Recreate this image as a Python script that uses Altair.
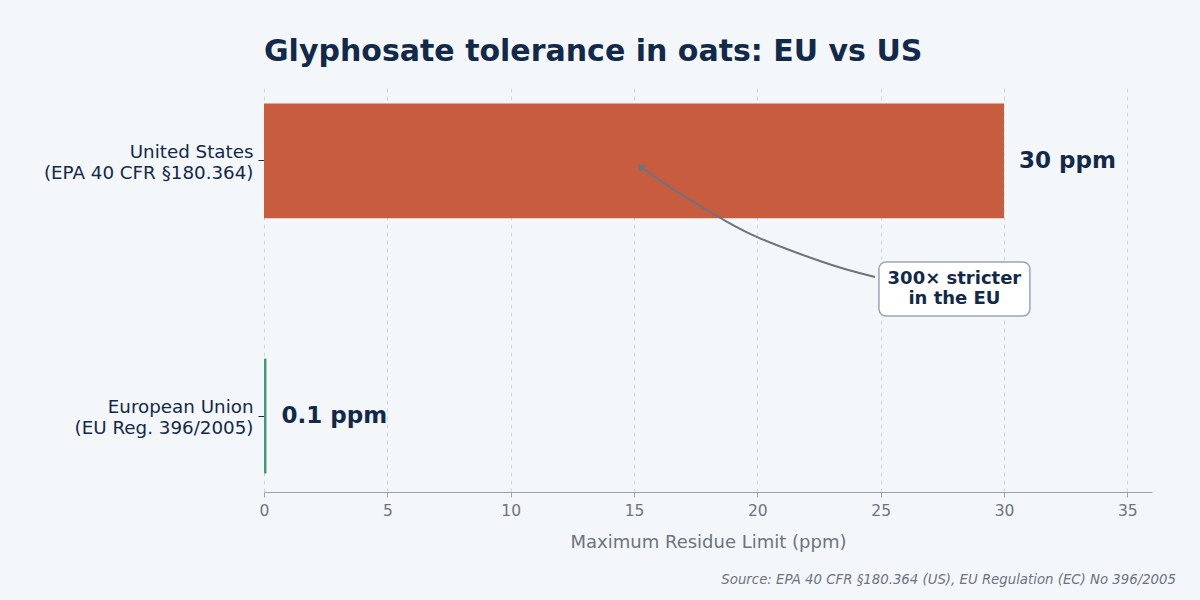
import altair as alt
import pandas as pd

# ---- data ----
regions = ["United States\n(EPA 40 CFR §180.364)", "European Union\n(EU Reg. 396/2005)"]
mrl_ppm = [30, 0.1]
value_labels = ["30 ppm", "0.1 ppm"]
bar_colors = ["#c85c3f", "#3f9a78"]

# annotation arrow path (x in ppm, y in band steps: 0 = US row, 1 = EU row)
arrow_x = [24.77, 23.35, 21.73, 19.99, 18.69, 17.68, 16.86, 15.97, 15.30]
arrow_y = [0.455, 0.420, 0.365, 0.302, 0.235, 0.176, 0.129, 0.071, 0.025]
box_x = [24.93, 31.05]
box_y = [0.396, 0.608]
note_text = "300× stricter\nin the EU"
source_text = "Source: EPA 40 CFR §180.364 (US), EU Regulation (EC) No 396/2005"

NAVY = "#12294a"
GRAY = "#6b7480"
BG = "#f4f7fa"
FONT = "DejaVu Sans"

df = pd.DataFrame({"region": regions, "mrl": mrl_ppm, "label": value_labels})
arrow_df = pd.DataFrame({"x": arrow_x, "y": arrow_y, "order": list(range(len(arrow_x)))})
tip_df = pd.DataFrame({"x": [arrow_x[-1]], "y": [arrow_y[-1]]})
box_df = pd.DataFrame({"x": [box_x[0]], "x2": [box_x[1]], "y": [box_y[0]], "y2": [box_y[1]],
                       "xm": [(box_x[0] + box_x[1]) / 2], "ym": [(box_y[0] + box_y[1]) / 2],
                       "t": [note_text]})

xscale = alt.Scale(domain=[0, 36], nice=False)
yband = alt.Scale(domain=regions, paddingInner=0.55, paddingOuter=0.0725)
yq = alt.Scale(domain=[-0.298, 1.298], reverse=True, nice=False, zero=False)

xaxis = alt.Axis(
    title="Maximum Residue Limit (ppm)", values=[0, 5, 10, 15, 20, 25, 30, 35],
    grid=True, gridColor="#d3d8de", gridDash=[4, 4], gridWidth=1,
    domainColor="#9aa5b4", domainWidth=1.2, tickColor="#9aa5b4", tickSize=5,
    labelColor=GRAY, labelFontSize=15.5, labelFont=FONT, labelPadding=6, labelFlush=False,
    titleColor=GRAY, titleFontSize=18, titleFont=FONT, titleFontWeight="normal",
    titlePadding=15,
)

base = alt.Chart(df)

bars = base.mark_bar().encode(
    x=alt.X("mrl:Q", scale=xscale, axis=xaxis),
    y=alt.Y("region:N", scale=yband, sort=regions,
            axis=alt.Axis(title=None, domain=False, grid=False, tickColor=NAVY, tickSize=6,
                          labelColor=NAVY, labelFontSize=18.3, labelFont=FONT, labelPadding=5,
                          labelExpr="split(datum.label, '\\n')", labelLineHeight=21,
                          labelOffset=-8, labelLimit=400)),
    color=alt.Color("region:N", scale=alt.Scale(domain=regions, range=bar_colors), legend=None),
)

labels = base.mark_text(align="left", baseline="middle", dx=15, font=FONT,
                        fontSize=23, fontWeight="bold", color=NAVY).encode(
    x=alt.X("mrl:Q", scale=xscale),
    y=alt.Y("region:N", scale=yband, sort=regions),
    text="label:N",
)

arrow = alt.Chart(arrow_df).mark_line(color=GRAY, strokeWidth=2, interpolate="basis").encode(
    x=alt.X("x:Q", scale=xscale),
    y=alt.Y("y:Q", scale=yq, axis=None),
    order="order:Q",
)

tip = alt.Chart(tip_df).mark_point(shape="triangle", filled=True, color=GRAY, size=80,
                                   angle=307, opacity=1).encode(
    x=alt.X("x:Q", scale=xscale),
    y=alt.Y("y:Q", scale=yq, axis=None),
)

box = alt.Chart(box_df).mark_rect(fill="white", stroke="#9aa5b4", strokeWidth=1.5,
                                  cornerRadius=7).encode(
    x=alt.X("x:Q", scale=xscale), x2="x2:Q",
    y=alt.Y("y:Q", scale=yq, axis=None), y2="y2:Q",
)

box_text = alt.Chart(box_df).mark_text(align="center", baseline="middle", font=FONT,
                                       fontSize=18, fontWeight="bold", color=NAVY,
                                       lineBreak="\n", lineHeight=20, dy=-10).encode(
    x=alt.X("xm:Q", scale=xscale),
    y=alt.Y("ym:Q", scale=yq, axis=None),
    text="t:N",
)

source = alt.Chart(pd.DataFrame({"s": [source_text]})).mark_text(
    align="right", baseline="middle", font=FONT, fontSize=13.3, fontStyle="italic", color=GRAY
).encode(x=alt.value(912), y=alt.value(495), text="s:N")

main = alt.layer(bars, labels)
annot = alt.layer(arrow, tip, box, box_text)

chart = alt.layer(main, annot, source).resolve_scale(y="independent").properties(
    width=888, height=407,
    title=alt.TitleParams("Glyphosate tolerance in oats: EU vs US", anchor="start", frame="group",
                          font=FONT, fontSize=30, fontWeight="bold", color=NAVY, offset=18),
    autosize=alt.AutoSizeParams(type="none"),
    padding={"left": 264, "top": 85, "right": 48, "bottom": 108},
    background=BG,
).configure_view(stroke=None)

chart.save("out.html", embed_options={"renderer": "svg", "actions": False})
